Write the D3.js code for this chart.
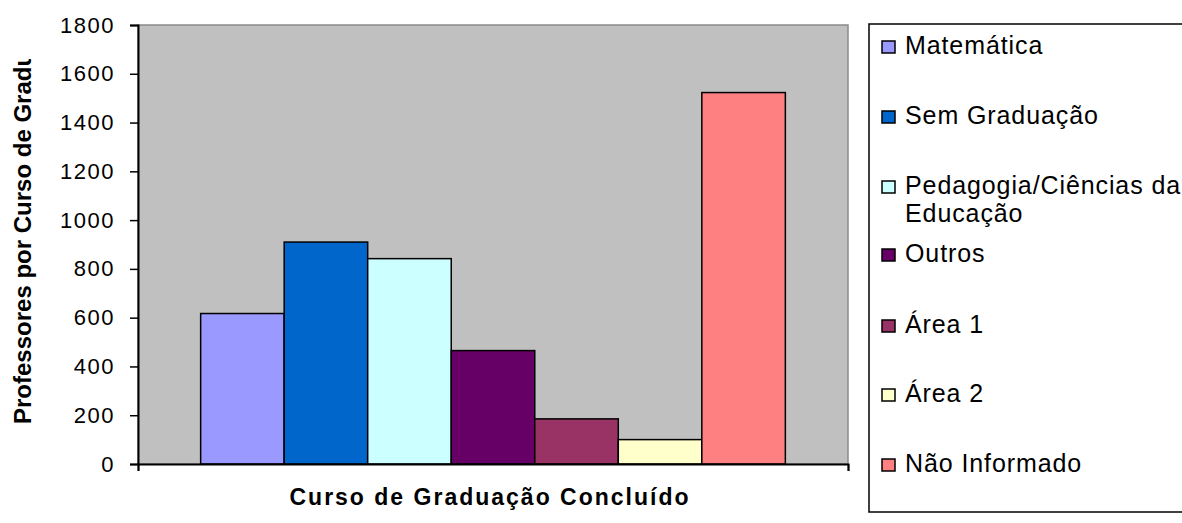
<!DOCTYPE html>
<html><head><meta charset="utf-8">
<script src="https://cdn.jsdelivr.net/npm/d3@7"></script>
<style>body{margin:0;background:#fff}svg{display:block}</style>
</head><body>
<svg id="c" width="1182" height="523"></svg>
<script>
const categories = ["Curso de Graduação Concluído"];
const series = ["Matemática","Sem Graduação","Pedagogia/Ciências da Educação","Outros","Área 1","Área 2","Não Informado"];
const legendLines = [["Matemática"],["Sem Graduação"],["Pedagogia/Ciências da","Educação"],["Outros"],["Área 1"],["Área 2"],["Não Informado"]];
const values = [617, 910, 842, 465, 185, 100, 1523];
const colors = ["#9999FF","#0066CC","#CCFFFF","#660066","#993366","#FFFFCC","#FF8080"];
const yTicks = [0,200,400,600,800,1000,1200,1400,1600,1800];

const svg = d3.select("#c");
const font = "Arial, 'Liberation Sans', sans-serif";
const L = 138, R = 848, T = 25, B = 464;

const y = d3.scaleLinear().domain([0,1800]).range([B,T]);
const x0 = d3.scaleBand().domain(categories).range([L,R]).paddingInner(0).paddingOuter(0);
// Excel gap width 150%: group occupies 7 bars, gap of 1.5 bar
const groupW = x0.bandwidth() * 7 / 8.5;
const x1 = d3.scaleBand().domain(series).range([x0(categories[0]) + (x0.bandwidth()-groupW)/2, x0(categories[0]) + (x0.bandwidth()+groupW)/2]).padding(0);

svg.append("rect").attr("x",L).attr("y",T).attr("width",R-L).attr("height",B-T)
  .attr("fill","#C0C0C0").attr("stroke","#8a8a8a").attr("stroke-width",1.5);

svg.selectAll("rect.bar").data(values).join("rect").attr("class","bar")
  .attr("x",(d,i)=>x1(series[i])).attr("width",x1.bandwidth())
  .attr("y",d=>y(d)).attr("height",d=>B-y(d))
  .attr("fill",(d,i)=>colors[i]).attr("stroke","#000").attr("stroke-width",1.5);

// y axis
const ya = svg.append("g").attr("transform",`translate(${L},0)`)
  .call(d3.axisLeft(y).tickValues(yTicks).tickSize(8).tickPadding(15).tickFormat(d3.format("d")));
ya.select(".domain").attr("stroke","#000").attr("stroke-width",2);
ya.selectAll(".tick line").attr("stroke","#000").attr("stroke-width",1.5);
ya.selectAll("text").attr("font-family",font).attr("font-size",22).attr("letter-spacing",1.5).attr("fill","#000");

// x axis
const xa = svg.append("g").attr("transform",`translate(0,${B})`)
  .call(d3.axisBottom(d3.scaleLinear().domain([0,1]).range([L,R])).tickValues([0,1]).tickSize(7).tickFormat(""));
xa.select(".domain").attr("stroke","#000").attr("stroke-width",2);
xa.selectAll(".tick line").attr("stroke","#000").attr("stroke-width",1.5);

svg.append("text").attr("x",(L+R)/2-3).attr("y",505).attr("text-anchor","middle")
  .attr("font-family",font).attr("font-weight","bold").attr("font-size",23).attr("letter-spacing",2)
  .text(categories[0]);

// y title, cut at the top as in the original
svg.append("clipPath").attr("id","yc").append("rect").attr("x",0).attr("y",59).attr("width",60).attr("height",470);
svg.append("g").attr("clip-path","url(#yc)").append("text")
  .attr("transform","translate(31,424) rotate(-90)").attr("text-anchor","start")
  .attr("font-family",font).attr("font-weight","bold").attr("font-size",24)
  .text("Professores por Curso de Graduação");

// legend
svg.append("rect").attr("x",869).attr("y",24).attr("width",320).attr("height",488)
  .attr("fill","#fff").attr("stroke","#000").attr("stroke-width",1.5);
const ly = [54,124,194,262,333,402,472];
const lg = svg.selectAll("g.lg").data(series).join("g").attr("class","lg")
  .attr("transform",(d,i)=>`translate(882,${ly[i]})`);
lg.append("rect").attr("x",0).attr("y",-13).attr("width",13).attr("height",12)
  .attr("fill",(d,i)=>colors[i]).attr("stroke","#000").attr("stroke-width",1.5);
lg.each(function(d,i){
  const g = d3.select(this);
  legendLines[i].forEach((t,j)=>{
    g.append("text").attr("x",23).attr("y",j*28).attr("font-family",font).attr("font-size",25).attr("letter-spacing",0.9).text(t);
  });
});
</script>
</body></html>
